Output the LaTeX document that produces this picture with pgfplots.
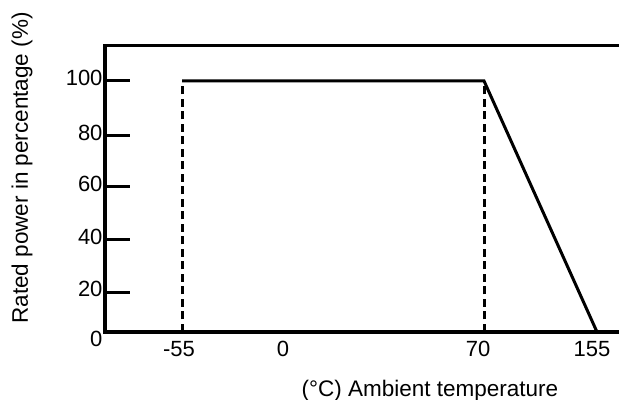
\documentclass[border=0pt]{standalone}
\usepackage{fontspec}
\setmainfont{Liberation Sans}
\usepackage{pgfplots}
\usepackage{pgfplotstable}
\pgfplotsset{compat=1.18}

% temp = ambient temperature (degC), pos = place on the (non-linear) x axis
\pgfplotstableread{
temp pos power
-55 182 100
70  484 100
155 597 0
}\derating

\begin{document}
\begin{tikzpicture}
\useasboundingbox (0,0) rectangle (619bp,400bp);
\begin{axis}[
    at={(105bp,68bp)}, anchor=south west,
    scale only axis, width=514bp, height=286bp,
    xmin=105, xmax=619,
    ymin=0, ymax=113.9,
    clip=false,
    axis line style={draw=none},
    tick align=inside,
    ytick pos=left,
    major tick length=25bp,
    every tick/.style={black, line width=3bp},
    tick label style={font=\fontsize{22bp}{26bp}\selectfont},
    xtick={179,283,478,592},
    xticklabels={\mbox{-55},\mbox{0},\raisebox{-3bp}{70},\mbox{155}},
    x tick style={draw=none},
    xticklabel style={yshift=-6bp},
    ytick={15.9,36.7,57.8,78.1,100},
    yticklabels={\mbox{20},\mbox{40},\mbox{60},\mbox{80},\mbox{100}},
    yticklabel style={yshift=3bp, xshift=1bp},
    extra y ticks={0},
    extra y tick labels={\mbox{0}},
    extra y tick style={major tick length=0pt, yticklabel style={yshift=-10bp}},
    xlabel={(°C) Ambient temperature},
    ylabel={Rated power in percentage (\%)},
    every axis x label/.style={at={(rel axis cs:0.632,-0.206)}, anchor=center,
        font=\fontsize{22.5bp}{27bp}\selectfont},
    every axis y label/.style={at={(rel axis cs:-0.1615,0.5734)}, anchor=center, rotate=90,
        font=\fontsize{22.5bp}{27bp}\selectfont},
]
\draw[line width=3bp, black] (rel axis cs:1,1) -- (rel axis cs:0,1) -- (rel axis cs:0,0) -- (rel axis cs:1,0);
\addplot[black, line width=3bp, mark=none] table[x=pos, y=power] {\derating};
\addplot[black, line width=3bp, dash pattern=on 8bp off 4.5bp, mark=none] coordinates {(182,0) (182,99)};
\addplot[black, line width=3bp, dash pattern=on 8bp off 4.5bp, mark=none] coordinates {(484,0) (484,99)};
\end{axis}
\end{tikzpicture}
\end{document}
